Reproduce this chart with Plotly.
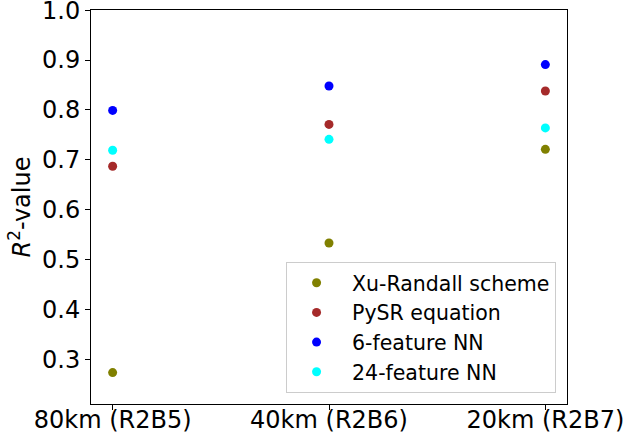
import plotly.graph_objects as go

categories = ["80km (R2B5)", "40km (R2B6)", "20km (R2B7)"]
xu_randall = [0.273, 0.533, 0.721]
pysr = [0.687, 0.771, 0.838]
nn6 = [0.799, 0.848, 0.891]
nn24 = [0.719, 0.741, 0.764]

series = [
    ("Xu-Randall scheme", xu_randall, "#808000"),
    ("PySR equation", pysr, "#A52A2A"),
    ("6-feature NN", nn6, "#0000FF"),
    ("24-feature NN", nn24, "#00FFFF"),
]

xpos = list(range(len(categories)))
fig = go.Figure()
for name, vals, col in series:
    fig.add_trace(go.Scatter(x=xpos, y=vals, mode="markers", name=name,
                             marker=dict(color=col, size=9, line=dict(width=0))))

font = "DejaVu Sans"
yticks = [0.3, 0.4, 0.5, 0.6, 0.7, 0.8, 0.9, 1.0]
fig.update_layout(
    width=626, height=437,
    margin=dict(l=91, r=59, t=10, b=33),
    paper_bgcolor="white", plot_bgcolor="white",
    font=dict(family=font, size=24, color="black"),
    showlegend=True,
    legend=dict(x=0.977, y=0.028, xanchor="right", yanchor="bottom",
                bgcolor="rgba(255,255,255,0.8)", bordercolor="#cccccc", borderwidth=1,
                font=dict(family=font, size=20.5), indentation=-6, itemwidth=61,
                tracegroupgap=0, itemsizing="trace"),
    xaxis=dict(range=[-0.1, 2.1], tickmode="array", tickvals=xpos, ticktext=categories,
               showline=True, linecolor="black", linewidth=1, mirror=True,
               ticks="outside", ticklen=5, tickwidth=1, tickcolor="black",
               showgrid=False, zeroline=False, tickfont=dict(size=24), automargin=False,
               ticklabeloverflow="allow", ticklabelstandoff=-11),
    yaxis=dict(range=[0.21, 1.0005], tickmode="array",
               tickvals=yticks, ticktext=["%.1f" % v for v in yticks],
               showline=True, linecolor="black", linewidth=1, mirror=True,
               ticks="outside", ticklen=5, tickwidth=1, tickcolor="black",
               showgrid=False, zeroline=False, tickfont=dict(size=24), automargin=False,
               ticklabeloverflow="allow",
               title=dict(text="<i>R</i><sup>2</sup>-value", font=dict(size=24), standoff=4)),
)

fig.write_html("out.html", config={"displayModeBar": False},
               post_script="document.body.style.margin='0';")
